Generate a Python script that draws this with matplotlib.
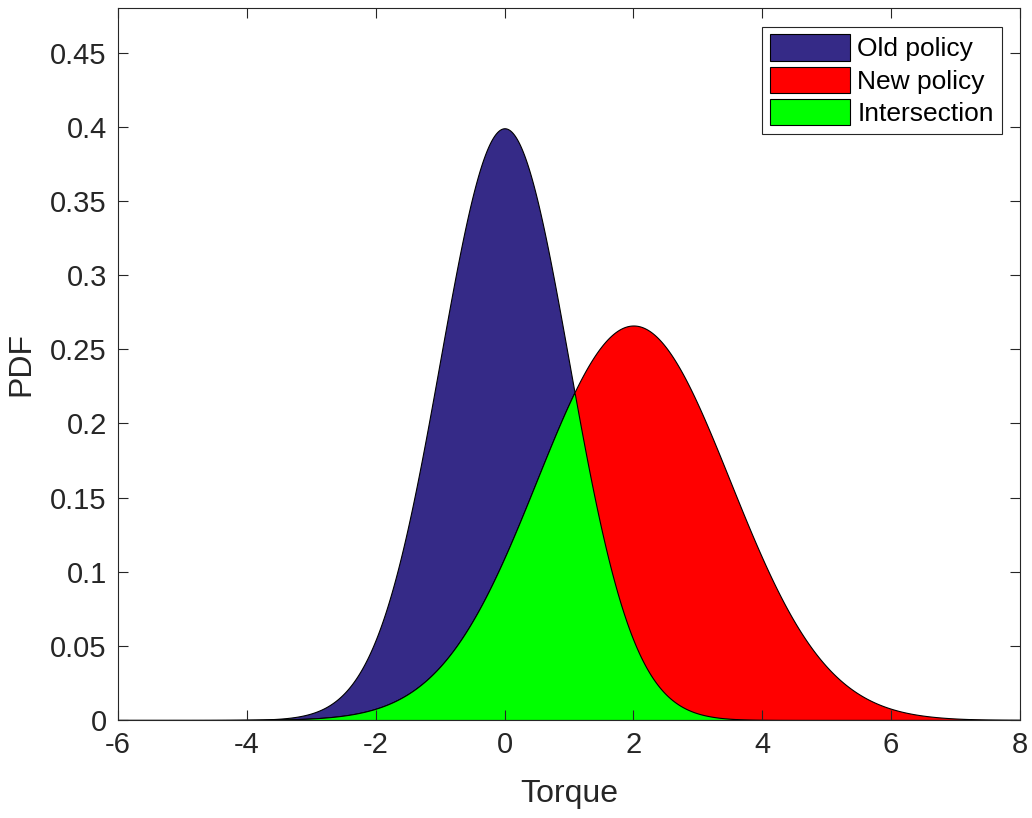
import numpy as np
import matplotlib.pyplot as plt

plt.rcParams["font.family"] = ["Liberation Sans", "DejaVu Sans"]
plt.rcParams["axes.unicode_minus"] = False

# distribution parameters
labels = ["Old policy", "New policy", "Intersection"]
means = [0.0, 2.0]
stds = [1.0, 1.5]
colors = ["#352A87", "#FF0000", "#00FF00"]
xticks = [-6, -4, -2, 0, 2, 4, 6, 8]
yticks = [0, 0.05, 0.1, 0.15, 0.2, 0.25, 0.3, 0.35, 0.4, 0.45]
ytick_labels = ["0", "0.05", "0.1", "0.15", "0.2", "0.25", "0.3", "0.35", "0.4", "0.45"]

x = np.linspace(-6, 8, 1401)
def npdf(x, m, s): return np.exp(-0.5 * ((x - m) / s) ** 2) / (s * np.sqrt(2 * np.pi))
p_old = npdf(x, means[0], stds[0])
p_new = npdf(x, means[1], stds[1])
p_int = np.minimum(p_old, p_new)

fig = plt.figure(figsize=(10.32, 8.18), dpi=100)
ax = fig.add_axes([0.1143, 0.1198, 0.8740, 0.8704])
TXT = "#262626"
for p, c, lab in zip([p_old, p_new, p_int], colors, labels):
    ax.fill_between(x, 0, p, facecolor=c, edgecolor="black", linewidth=0.8, label=lab)

ax.set_xlim(-6, 8); ax.set_ylim(0, 0.48)
ax.set_xticks(xticks); ax.set_yticks(yticks); ax.set_yticklabels(ytick_labels)
ax.tick_params(direction="in", top=True, right=True, labelsize=21, colors=TXT, length=7, width=0.8, pad=8)
for sp in ax.spines.values(): sp.set_color(TXT); sp.set_linewidth(0.8)
ax.set_xlabel("Torque", fontsize=23, color=TXT, labelpad=14)
ax.set_ylabel("PDF", fontsize=23, color=TXT, labelpad=10)

leg = ax.legend(loc="upper right", bbox_to_anchor=(0.98, 0.974), fontsize=19, frameon=True, fancybox=False,
                edgecolor=TXT, handlelength=3.0, handleheight=1.15, handletextpad=0.3, borderpad=0.3,
                labelspacing=0.2, borderaxespad=0.0, framealpha=1)
leg.get_frame().set_linewidth(0.8)

fig.savefig("out.png", dpi=100)
